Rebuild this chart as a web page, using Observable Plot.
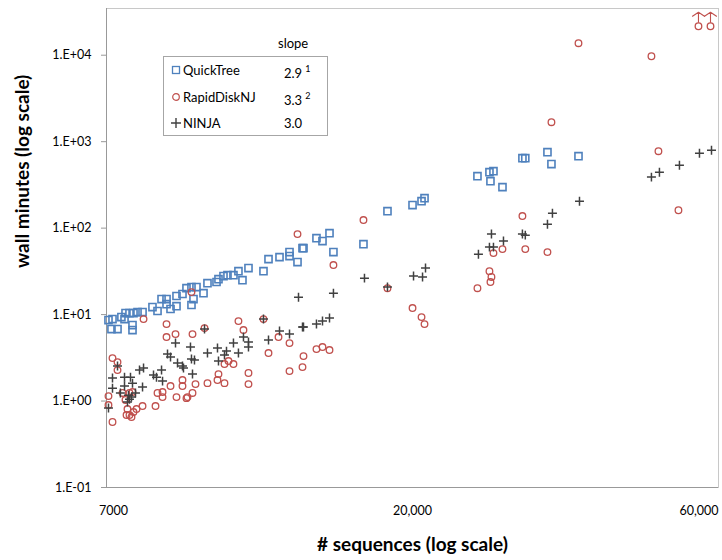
<!DOCTYPE html>
<html><head><meta charset="utf-8">
<script src="https://cdn.jsdelivr.net/npm/d3@7"></script>
<script src="https://cdn.jsdelivr.net/npm/@observablehq/plot@0.6"></script>
<style>
body{margin:0;background:#fff;font-family:Lato,"Open Sans",sans-serif;}
#wrap{position:relative;width:722px;height:560px;}
#legend{position:absolute;left:163px;top:56px;width:165px;height:80px;border:1px solid #a6a6a6;box-sizing:border-box;background:#fff;}
.lt{position:absolute;font-size:13px;color:#000;line-height:16px;white-space:nowrap;}
.lt sup{font-size:9px;position:relative;top:-1px;margin-left:3px;}
.sym{position:absolute;}
</style></head><body>
<div id="wrap"></div>
<script>
// [sequences, wall minutes]
const quickTree = [
 [7049,8.64],[7149,8.87],[7123,6.80],[7276,6.80],[7669,7.56],[7669,6.62],[7376,9.35],[7457,8.87],
 [7483,10.4],[7588,10.4],[7696,10.4],[7805,10.7],[7944,10.7],[8226,12.2],[8373,11.0],[8492,15.1],
 [8642,15.1],[8642,13.2],[8764,11.6],[8950,12.5],[8950,16.4],[9140,17.3],[9269,20.2],[9433,20.8],
 [9600,20.8],[9500,15.1],[9433,12.9],[9840,17.7],[9978,23.1],[10300,23.8],[10371,25.7],[10555,27.9],
 [10704,28.6],[10931,28.6],[11124,31.8],[11282,25.0],[11523,34.5],[12146,31.8],[12362,43.8],[12849,46.2],
 [13308,52.8],[13308,47.5],[13687,40.5],[13929,58.7],[13978,58.7],[14629,76.6],[14942,70.8],[15314,87.5],
 [15527,52.8],[17253,65.3],[18770,157],[20496,185],[21154,205],[21377,222],[25742,399],[26850,444],
 [27231,456],[26945,349],[28106,298],[30145,645],[30450,645],[32914,756],[33378,550],[36702,679]
];
const rapidDiskNJ = [
 [55927,21640],[58339,21640],[36702,13770],[47414,9730],[33378,1680],[48594,776],[52131,161],[30145,138],
 [17253,124],[13687,85.3],[15527,37.4],[9433,18.2],[7972,8.87],[8642,7.76],[8642,5.50],[8919,5.95],
 [9467,5.95],[9875,6.98],[11124,8.41],[11322,6.62],[12146,8.87],[12362,3.59],[12804,5.50],[13308,4.68],
 [13308,2.22],[13929,2.47],[13978,3.31],[14629,3.99],[14942,4.21],[15314,3.89],[18770,20.2],[20496,11.9],
 [21154,9.35],[21377,7.76],[25742,20.2],[26945,23.8],[27040,27.2],[26850,31.8],[27231,51.4],[28106,57.2],
 [30450,57.2],[32914,52.8],
 [7149,3.14],[7276,2.82],[7276,2.28],[7049,1.14],[7049,0.899],[7149,0.572],[7405,1.24],[7483,1.03],
 [7588,1.24],[7669,1.27],[7535,0.808],[7510,0.689],[7588,0.689],[7642,0.653],[7696,0.746],[7778,0.808],
 [7944,0.875],[8314,0.875],[8373,1.24],[8522,1.27],[8522,1.11],[8764,1.49],[8950,1.11],[9140,1.75],
 [9140,1.49],[9269,1.08],[9302,1.11],[9467,1.24],[9567,1.57],[9978,1.61],[10335,1.75],[10371,2.05],
 [10592,1.61],[10592,2.68],[10742,2.90],[10931,2.68],[11523,2.11],[11523,1.57]
];
// RapidDiskNJ runs that went off the scale (drawn with an up arrow)
const rapidDiskNJOffScale = [[55927,21640],[58339,21640]];
const ninja = [
 [7049,0.830],[7149,1.85],[7149,1.41],[7276,2.54],[7350,1.24],[7457,1.89],[7457,1.49],[7615,1.89],
 [7669,1.61],[7562,1.17],[7642,1.11],[7588,1.05],[7535,0.974],[7750,1.24],[7860,2.28],[7972,2.41],
 [7944,1.45],[8256,2.00],[8343,1.89],[8492,2.28],[8522,1.70],[8672,3.49],[8764,3.23],[8919,4.68],
 [8982,2.75],[9140,2.54],[9172,2.41],[9433,3.06],[9400,4.21],[9467,2.05],[9533,2.98],[9875,6.80],
 [9978,3.59],[10335,4.10],[10371,2.90],[10592,3.40],[10667,3.78],[10931,4.68],[11124,3.59],[11322,5.50],
 [11523,4.81],[11523,4.21],[12146,8.87],[12362,5.07],[12849,6.45],[13308,5.95],[13929,7.17],[13978,7.17],
 [14629,7.76],[14942,8.41],[15314,9.12],[13735,15.9],[15527,17.7],[17314,26.4],[18770,20.8],[20568,27.9],
 [21229,27.2],[21452,34.5],[25832,50.0],[26850,60.3],[27231,60.3],[27040,85.3],[28205,70.8],[30145,85.3],
 [30450,83.0],[32914,111],[33495,149],[36832,205],[47414,389],[48765,444],[52314,535],[56123,736],[58544,797]
];
const yTicks = [0.1, 1, 10, 100, 1000, 10000];
const xTicks = [7000, 20000, 60000];
const xTickLabels = ["7000", "20,000", "60,000"];
const legendNames = ["QuickTree", "RapidDiskNJ", "NINJA"];
const legendSlopes = ["2.9", "3.3", "3.0"];
const legendNotes = ["1", "2", ""];

const BLUE = "#4F81BD", RED = "#C0504D", DARK = "#404040";
const fmtY = d => { const e = Math.round(Math.log10(d)); return "1.E" + (e < 0 ? "-" : "+") + String(Math.abs(e)).padStart(2, "0"); };
const fmtX = d => xTickLabels[xTicks.indexOf(d)];
const upArrow = {
  draw(context, l) {
    context.moveTo(0, 0); context.lineTo(0, -l);
    context.moveTo(-6, -l + 4); context.lineTo(0, -l); context.lineTo(6, -l + 4);
  }
};

const chart = Plot.plot({
  width: 722, height: 560,
  marginLeft: 106, marginRight: 4, marginTop: 8, marginBottom: 73,
  style: {fontFamily: "Lato, 'Open Sans', sans-serif", fontSize: "12.5px", color: "#000", background: "#fff"},
  x: {type: "log", domain: [7000, 60000]},
  y: {type: "log", domain: [0.1, 34700]},
  marks: [
    Plot.frame({stroke: "#c8c8c8"}),
    Plot.ruleX([7000], {stroke: "#999"}),
    Plot.ruleY([0.1], {stroke: "#999"}),
    Plot.axisY({ticks: yTicks, tickFormat: fmtY, tickSize: 5, tickPadding: 10, stroke: "#999", label: null, fill: "#000"}),
    Plot.axisX({ticks: xTicks.slice(0, 2), tickFormat: fmtX, tickSize: 0, tickPadding: 19, dx: 7, label: null, fill: "#000"}),
    Plot.axisX({ticks: xTicks.slice(2), tickFormat: fmtX, tickSize: 0, tickPadding: 19, textAnchor: "end", label: null, fill: "#000"}),
    Plot.text(["# sequences (log scale)"], {frameAnchor: "bottom", dy: 63, fontSize: 19, fontWeight: "bold", fill: "#000"}),
    Plot.text(["wall minutes (log scale)"], {frameAnchor: "left", dx: -84, dy: 20, rotate: -90, fontSize: 19, fontWeight: "bold", fill: "#000"}),
    Plot.dot(quickTree, {x: d => d[0], y: d => d[1], symbol: "square", r: 4, stroke: BLUE, strokeWidth: 1.6, fill: "none"}),
    Plot.dot(rapidDiskNJ, {x: d => d[0], y: d => d[1], symbol: "circle", r: 3.3, stroke: RED, strokeWidth: 1.3, fill: "none"}),
    Plot.vector(rapidDiskNJOffScale, {x: d => d[0], y: d => d[1], length: 10, anchor: "start", dy: -4, shape: upArrow, stroke: RED, strokeWidth: 1.1}),
    Plot.dot(ninja, {x: d => d[0], y: d => d[1], symbol: "plus", r: 3, stroke: DARK, strokeWidth: 1.5})
  ]
});
const wrap = document.getElementById("wrap");
wrap.appendChild(chart);

// legend
const leg = document.createElement("div"); leg.id = "legend"; wrap.appendChild(leg);
const head = document.createElement("div"); head.className = "lt"; head.style.left = "278px"; head.style.top = "35px"; head.textContent = "slope"; wrap.appendChild(head);
const symSvg = [
  `<svg width="10" height="10"><rect x="1.5" y="1.5" width="7" height="7" fill="none" stroke="${BLUE}" stroke-width="1.3"/></svg>`,
  `<svg width="10" height="10"><circle cx="5" cy="5" r="3.3" fill="none" stroke="${RED}" stroke-width="1.2"/></svg>`,
  `<svg width="12" height="12"><path d="M1,6H11M6,1V11" stroke="${DARK}" stroke-width="1.4"/></svg>`
];
const rowY = [70, 97, 123];
legendNames.forEach((name, i) => {
  const s = document.createElement("div"); s.className = "sym"; s.innerHTML = symSvg[i];
  const w = i === 2 ? 12 : 10;
  s.style.left = (176 - w / 2) + "px"; s.style.top = (rowY[i] - w / 2) + "px"; s.style.lineHeight = "0";
  wrap.appendChild(s);
  const t = document.createElement("div"); t.className = "lt"; t.style.left = "183px"; t.style.top = (rowY[i] - 8) + "px"; t.textContent = name; wrap.appendChild(t);
  const v = document.createElement("div"); v.className = "lt"; v.style.left = "284px"; v.style.top = (rowY[i] - 8) + "px";
  v.innerHTML = legendSlopes[i] + (legendNotes[i] ? `<sup>${legendNotes[i]}</sup>` : "");
  wrap.appendChild(v);
});
</script>
</body></html>
